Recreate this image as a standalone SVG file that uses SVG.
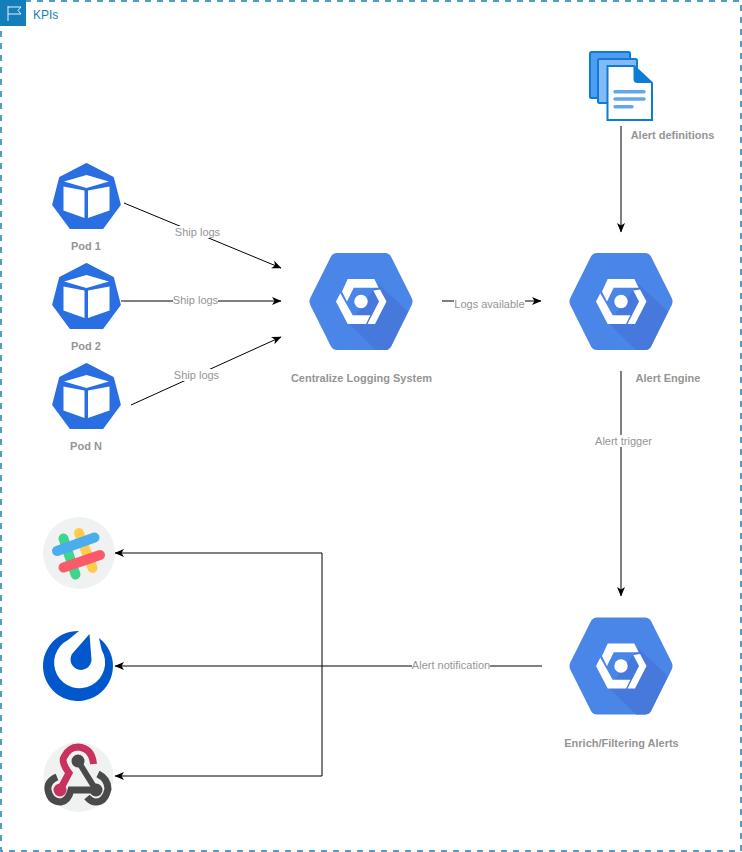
<svg xmlns="http://www.w3.org/2000/svg" width="742" height="852" viewBox="0 0 742 852">
<style>
text{font-family:"Liberation Sans",Arial,sans-serif;font-size:11px;fill:#959595;text-anchor:middle}
.b{font-weight:bold}
.c{fill:none;stroke:#000;stroke-width:1}
.lb{fill:#fff}
</style>
<defs>
<marker id="ah" viewBox="0 0 10 10" refX="9" refY="5" markerWidth="10" markerHeight="10" markerUnits="userSpaceOnUse" orient="auto"><path d="M0 1L9.500 5L0 9L2.500 5Z" fill="#000"/></marker>
<g id="pod">
<path d="M0-32.500L26-19L32.800 7.500L15.800 30.500L-15.800 30.500L-32.800 7.500L-26-19Z" fill="#2A6FE2" stroke="#2A6FE2" stroke-width="3" stroke-linejoin="round"/>
<path d="M0-22L22.500-15.500L0-9L-22.500-15.500Z M-23-10.500L-2-6.500L-2 21L-23 13.500Z M1.500 -6.500L23-10.500L23 13.500L1.500 21Z" fill="#fff"/>
</g>
<g id="gcp">
<path d="M-24-48.500L24-48.500Q28-48.500 30-45L50.500-4Q52.500 0 50.500 4L30 45Q28 48.500 24 48.500L-24 48.500Q-28 48.500-30 45L-50.500 4Q-52.500 0-50.500-4L-30-45Q-28-48.500-24-48.500Z" fill="#4A86E8"/>
<path d="M17-18L47 10L30 45Q28 48.500 24 48.500L15 48.500L-12 22Z" fill="#4779DD"/>
<circle r="6.700" fill="#fff"/>
<path d="M-13.300-22.500L13.300-22.500L17.700-13.800L-7.300-13.800L-14 0L-19-10Z M19-12L25.500 0L14 22.500L6.500 22.500L18 0L12.300-11Z M-25 0L-20.700-8.300L-8.300 13.800L9.300 13.800L5 22.500L-13.300 22.500Z" fill="#fff"/>
</g>
</defs>
<rect id="frame" x="1" y="1" width="740" height="850" fill="none" stroke="#147EBA" stroke-width="1.500" stroke-dasharray="6 6"/>
<g id="kpis">
<rect x="0" y="0" width="26" height="26" fill="#147EBA"/>
<path d="M8 21V6M8 7H21L18 10.500L21 14H8" fill="none" stroke="#fff" stroke-width="0.900"/>
<text x="33" y="19" style="font-size:12px;fill:#147EBA;text-anchor:start">KPIs</text>
</g>
<g id="connectors">
<path class="c" marker-end="url(#ah)" d="M124 203L281 268"/>
<path class="c" marker-end="url(#ah)" d="M121 301H281"/>
<path class="c" marker-end="url(#ah)" d="M131 405L281 337"/>
<path class="c" marker-end="url(#ah)" d="M442 301H541"/>
<path class="c" marker-end="url(#ah)" d="M621 126V232"/>
<path class="c" marker-end="url(#ah)" d="M621 371V596"/>
<path class="c" marker-end="url(#ah)" d="M542 666H115"/>
<path class="c" marker-end="url(#ah)" d="M322 666V553H115"/>
<path class="c" marker-end="url(#ah)" d="M322 666V776H115"/>
<rect class="lb" x="175" y="226" width="45" height="12"/><text x="197.500" y="236">Ship logs</text>
<rect class="lb" x="173" y="294" width="45" height="12"/><text x="195.500" y="304">Ship logs</text>
<rect class="lb" x="174" y="369" width="45" height="12"/><text x="196.500" y="379">Ship logs</text>
<rect class="lb" x="454" y="298" width="71" height="12"/><text x="489.500" y="308">Logs available</text>
<rect class="lb" x="595" y="435" width="57" height="12"/><text x="623.500" y="445">Alert trigger</text>
<rect class="lb" x="412" y="659" width="78" height="12"/><text x="451" y="669">Alert notification</text>
</g>
<g id="pod1"><use href="#pod" x="86.500" y="197"/><text class="b" x="86" y="250">Pod 1</text></g>
<g id="pod2"><use href="#pod" x="86.500" y="297"/><text class="b" x="86" y="350">Pod 2</text></g>
<g id="podN"><use href="#pod" x="86.500" y="397"/><text class="b" x="86" y="450">Pod N</text></g>
<g id="logging"><use href="#gcp" x="361" y="301.500"/><text class="b" x="361.500" y="382">Centralize Logging System</text></g>
<g id="engine"><use href="#gcp" x="621" y="301.500"/><text class="b" x="668" y="382">Alert Engine</text></g>
<g id="enrich"><use href="#gcp" x="621" y="666"/><text class="b" x="621.500" y="747">Enrich/Filtering Alerts</text></g>
<g id="docs">
<rect x="590" y="52" width="40" height="46" rx="1.500" fill="#4F9CF0" stroke="#0C7CD5" stroke-width="2"/>
<rect x="598" y="59" width="39" height="44" rx="1.500" fill="#84B8F6" stroke="#0C7CD5" stroke-width="2"/>
<path d="M607.500 66H634L652 83V120H607.500Z" fill="#fff" stroke="#0C7CD5" stroke-width="2"/>
<path d="M633.500 66L652 83H637.500Q633.500 83 633.500 79Z" fill="#0C7CD5"/>
<path d="M615 91.700H644M615 99H644M615 106.700H632" fill="none" stroke="#64A5F3" stroke-width="3.500" stroke-linecap="round"/>
<text class="b" x="672.500" y="139">Alert definitions</text>
</g>
<g id="slack">
<circle cx="79" cy="553" r="36" fill="#F0F1F1"/>
<g fill="none" stroke-width="10" stroke-linecap="round">
<path d="M63.500 538.500L75.500 574.500" stroke="#3DD68C"/>
<path d="M79 533L92.500 568" stroke="#FFCC4D"/>
<path d="M57 551L94.500 537.500" stroke="#4AADEE"/>
<path d="M63.500 567.500L100 555" stroke="#FB5A6A"/>
</g>
</g>
<g id="mattermost">
<path d="M79 631A35 35 0 1 0 99 638L101.700 650A25.500 25.500 0 1 1 68 640Z" fill="#0058CC"/>
<path d="M89.500 634L91.500 660A10.500 10.500 0 1 1 72 654Z" fill="#0058CC"/>
</g>
<g id="webhook">
<circle cx="78.500" cy="777" r="35" fill="#F0F1F1"/>
<g fill="none" stroke-linecap="butt">
<path d="M57 777Q47 781 48 790Q50 802 61 802Q68 801 71 790H96" stroke="#4A4A4A" stroke-width="7"/>
<path d="M78 761L96 790" stroke="#4A4A4A" stroke-width="6"/>
<path d="M98 774Q108 779 108 789Q105 802 96 802Q91 802 87 797" stroke="#4A4A4A" stroke-width="7"/>
<path d="M60 790L69 773Q61 762 64 757Q69 747 78 747Q92 748 93.500 764" stroke="#C8325E" stroke-width="7"/>
</g>
<circle cx="78" cy="761" r="6.500" fill="#4A4A4A"/>
<circle cx="96" cy="790" r="6.500" fill="#4A4A4A"/>
<circle cx="60" cy="790" r="6.500" fill="#C8325E"/>
</g>
</svg>
